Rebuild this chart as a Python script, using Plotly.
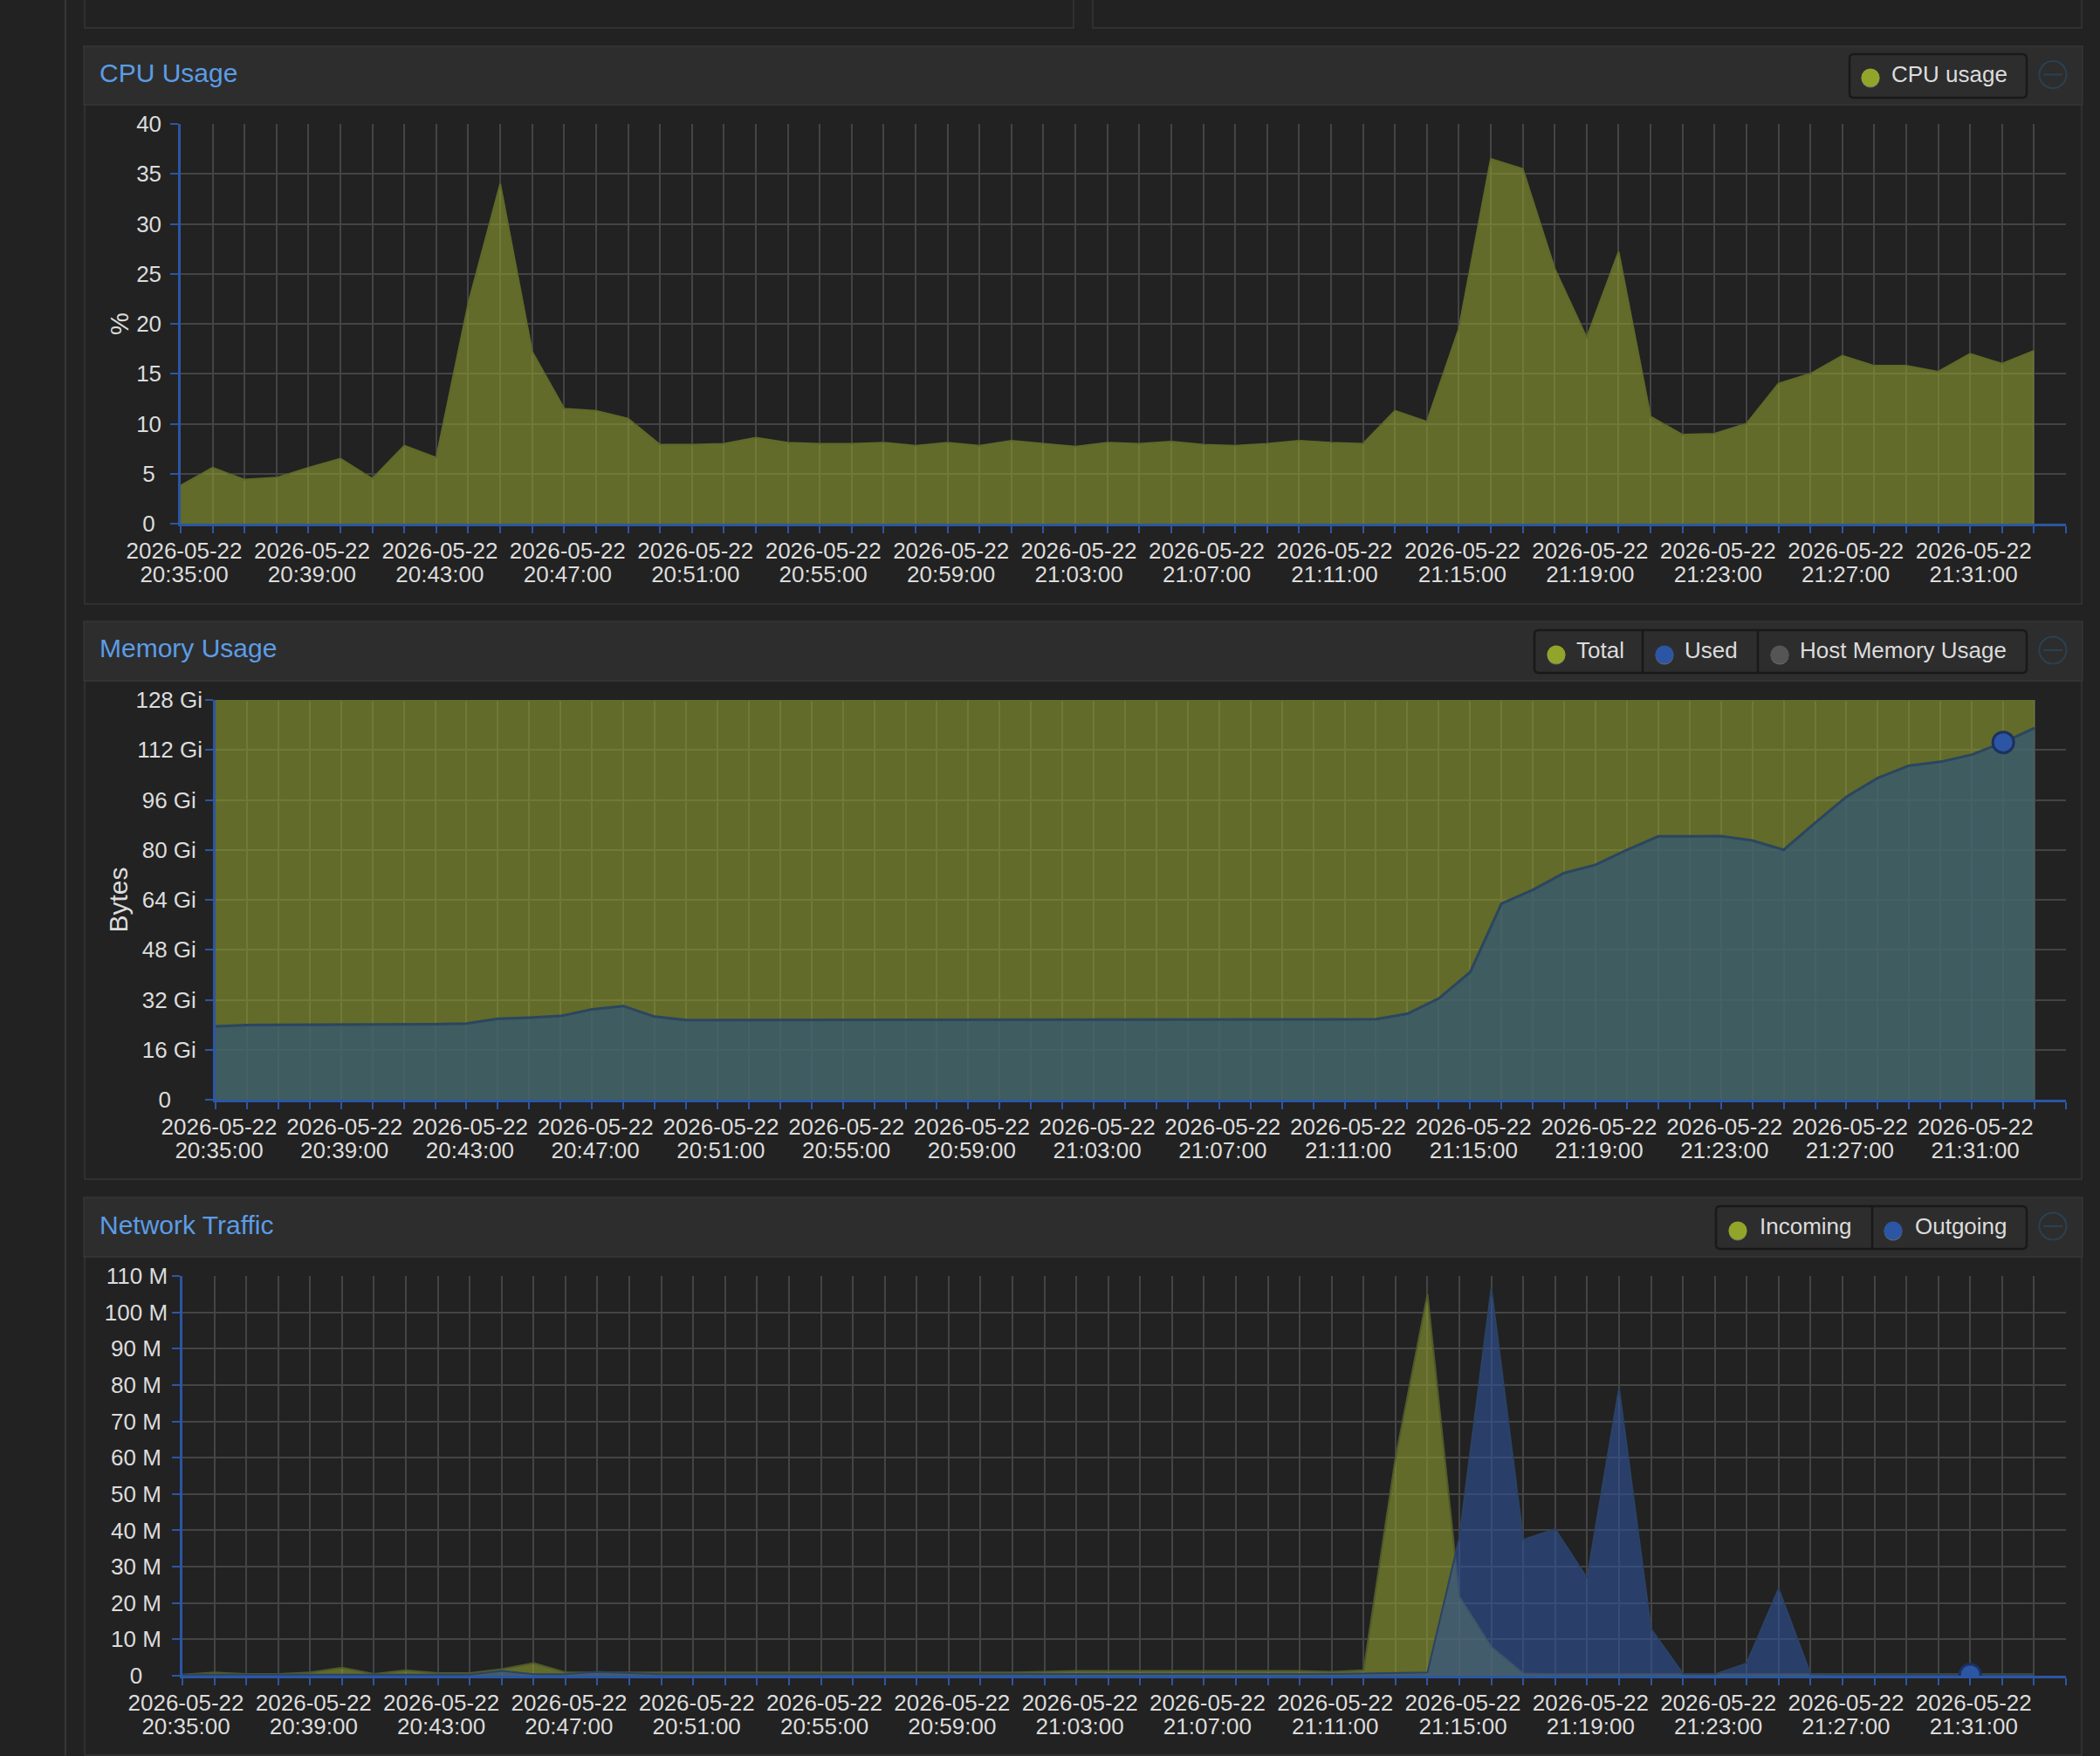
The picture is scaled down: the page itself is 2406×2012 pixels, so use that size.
import pandas as pd
import plotly.graph_objects as go

W, H = 2406, 2012

# one sample per minute, 20:35 .. 21:33
times = pd.date_range("2026-05-22 20:35:00", "2026-05-22 21:33:00", freq="min")
axis_end = "2026-05-22 21:34:00"
minute_ticks = pd.date_range("2026-05-22 20:35:00", axis_end, freq="min")
label_ticks = minute_ticks[::4][:15]
date_labels = [t.strftime("%Y-%m-%d") for t in label_ticks]
time_labels = [t.strftime("%H:%M:%S") for t in label_ticks]
mem_hover_idx = 57
net_hover_idx = 56

cpu_usage = [3.8, 5.6, 4.4, 4.6, 5.6, 6.5, 4.5, 7.8, 6.6, 22.0, 34.0, 17.2, 11.5, 11.3, 10.5,
             7.9, 7.9, 8.0, 8.6, 8.1, 8.0, 8.0, 8.1, 7.8, 8.1, 7.8, 8.3, 8.0, 7.7, 8.1,
             8.0, 8.2, 7.9, 7.8, 8.0, 8.3, 8.1, 8.0, 11.3, 10.2, 19.5, 36.5, 35.5, 25.5, 18.6,
             27.2, 10.7, 8.9, 9.0, 10.0, 14.0, 15.0, 16.8, 15.8, 15.8, 15.2, 17.0, 16.0, 17.3]

mem_total = [128] * 59
mem_used = [23.5, 23.9, 24.0, 24.0, 24.0, 24.0, 24.0, 24.2, 24.4, 25.9, 26.3, 26.8, 28.9, 30.0, 26.6,
            25.5, 25.5, 25.5, 25.5, 25.5, 25.5, 25.5, 25.5, 25.5, 25.5, 25.5, 25.5, 25.5, 25.5, 25.5,
            25.5, 25.5, 25.5, 25.5, 25.6, 25.6, 25.7, 25.8, 27.5, 32.4, 40.8, 62.8, 67.2, 72.6, 75.2,
            80.0, 84.3, 84.3, 84.4, 83.0, 80.0, 88.6, 97.0, 103.0, 107.0, 108.2, 110.5, 114.4, 119.0]

net_in = [0.3, 0.9, 0.5, 0.5, 0.9, 2.2, 0.5, 1.5, 0.7, 0.7, 1.8, 3.5, 0.9, 0.9, 0.9,
          0.9, 0.9, 0.9, 0.9, 0.9, 0.9, 0.9, 0.9, 0.9, 0.9, 0.9, 0.9, 1.1, 1.3, 1.3,
          1.3, 1.3, 1.3, 1.3, 1.3, 1.3, 1.1, 1.5, 60.0, 105.0, 21.7, 8.0, 0.6, 0.4, 0.4,
          0.4, 0.4, 0.4, 0.4, 0.4, 0.4, 0.4, 0.4, 0.4, 0.4, 0.4, 0.4, 0.4, 0.4]
net_out = [0.3, 0.3, 0.3, 0.3, 0.3, 0.3, 0.3, 0.3, 0.3, 0.3, 1.3, 0.4, 0.4, 1.1, 0.7,
           0.4, 0.4, 0.4, 0.4, 0.4, 0.4, 0.4, 0.4, 0.4, 0.4, 0.4, 0.4, 0.4, 0.4, 0.4,
           0.4, 0.4, 0.4, 0.4, 0.4, 0.4, 0.5, 0.6, 0.7, 0.9, 38.0, 106.5, 37.4, 40.3, 26.8,
           79.0, 12.9, 0.5, 0.4, 3.4, 23.9, 0.4, 0.3, 0.3, 0.3, 0.3, 0.3, 0.3, 0.3]

cpu_ticks = list(range(0, 41, 5))
cpu_ticktext = [str(v) for v in cpu_ticks]
mem_ticks = list(range(0, 129, 16))
mem_ticktext = ["0"] + [f"{v} Gi" for v in mem_ticks[1:]]
net_ticks = list(range(0, 111, 10))
net_ticktext = ["0"] + [f"{v} M" for v in net_ticks[1:]]

BG = "#222222"
HEADER = "#2d2d2d"
BORDER = "#363636"
GRID = "#444444"
AXIS = "#2c56a4"
TEXT = "#dcdcdc"
TITLE = "#5c9ce6"
OLIVE = "#92a52a"
BLUE = "#2c56a4"
GREY = "#555555"
FONT = "Liberation Sans"
OLIVE_FILL = "rgba(141,157,46,0.6)"


def px(x):
    return x / W


def py(y):
    return 1 - y / H


def center_labels(labels, pad):
    # the reference centres its y labels, plotly right-aligns them
    widest = max(len(s) for s in labels)
    out = []
    for s in labels:
        n = pad if len(s) == 1 else (widest - len(s))
        out.append(s + "\u00a0" * n)
    return out


fig = go.Figure()

# plot boxes in screen pixels: left, right, top, bottom
charts = [
    dict(box=(207, 2367, 142, 600), rng=[0, 40], ticks=cpu_ticks, text=center_labels(cpu_ticktext, 1),
         title="%", title_size=29, standoff=5),
    dict(box=(247, 2367, 802, 1260), rng=[0, 128], ticks=mem_ticks, text=center_labels(mem_ticktext, 5),
         title="Bytes", title_size=30, standoff=-2),
    dict(box=(209, 2367, 1462, 1920), rng=[0, 110], ticks=net_ticks, text=center_labels(net_ticktext, 4),
         title=None, title_size=0, standoff=0),
]


def area(y, ax, fill, line, width=2):
    fig.add_trace(go.Scatter(x=times, y=y, xaxis=f"x{ax}", yaxis=f"y{ax}", mode="lines", fill="tozeroy",
                             fillcolor=fill, line=dict(color=line, width=width), showlegend=False))


area(cpu_usage, 1, OLIVE_FILL, "#5f6a29")
area(mem_total, 2, OLIVE_FILL, "#626c29")
area(mem_used, 2, "rgba(40,81,133,0.6)", "#2b4660", 3)
area(net_in, 3, OLIVE_FILL, "#4f5a2a")
area(net_out, 3, "rgba(47,82,151,0.6)", "#2b4266")

# hover dots
fig.add_trace(go.Scatter(x=[times[mem_hover_idx]], y=[mem_used[mem_hover_idx]], xaxis="x2", yaxis="y2", mode="markers",
                         marker=dict(size=24, color=BLUE, line=dict(color="#1b3160", width=3)), showlegend=False))
fig.add_trace(go.Scatter(x=[times[net_hover_idx]], y=[net_out[net_hover_idx]], xaxis="x3", yaxis="y3", mode="markers",
                         marker=dict(size=24, color=BLUE, line=dict(color="#1b3160", width=3)), showlegend=False))

layout = {}
tick_font = dict(family=FONT, size=26, color=TEXT)
for i, c in enumerate(charts):
    n = i + 1
    x0, x1, y0, y1 = c["box"]
    key = "" if n == 1 else str(n)
    date_text = [date_labels[j // 4] if j % 4 == 0 and j // 4 < len(date_labels) else "" for j in range(len(minute_ticks))]
    layout[f"xaxis{key}"] = dict(
        domain=[px(x0), px(x1)], type="date", range=[minute_ticks[0], axis_end], anchor=f"y{key}", automargin=False,
        tickmode="array", tickvals=list(minute_ticks), ticktext=date_text, tickfont=tick_font, tickangle=0,
        ticks="outside", ticklen=8, tickwidth=2, tickcolor=AXIS, showline=True, linecolor=AXIS, linewidth=2.5,
        showgrid=True, gridcolor=GRID, gridwidth=1.8, zeroline=False, ticklabelstandoff=-2, ticklabelshift=-4,
    )
    yaxis = dict(
        domain=[py(y1), py(y0)], range=c["rng"], anchor=f"x{key}", automargin=False,
        tickmode="array", tickvals=c["ticks"], ticktext=c["text"], tickfont=tick_font,
        ticks="outside", ticklen=9, tickwidth=2, tickcolor=AXIS, showline=True, linecolor=AXIS, linewidth=2.5,
        showgrid=True, gridcolor=GRID, gridwidth=1.8, zeroline=False, ticklabelstandoff=c["standoff"],
    )
    if c["title"]:
        yaxis["title"] = dict(text=c["title"], font=dict(family=FONT, size=c["title_size"], color=TEXT), standoff=0)
    layout[f"yaxis{key}"] = yaxis
    # second line of the x labels sits on its own overlaid axis, <br> spacing is too wide here
    layout[f"xaxis{n + 3}"] = dict(
        domain=[px(x0), px(x1)], type="date", range=[minute_ticks[0], axis_end], anchor=f"y{key}", automargin=False,
        overlaying=f"x{key}", side="bottom", tickmode="array", tickvals=list(label_ticks), ticktext=time_labels,
        tickfont=tick_font, tickangle=0, ticks="", showgrid=False, showline=False, zeroline=False,
        ticklabelstandoff=40, ticklabelshift=-4,
    )
    fig.add_trace(go.Scatter(x=[minute_ticks[0]], y=[None], xaxis=f"x{n + 3}", yaxis=f"y{n}", mode="lines",
                             showlegend=False, hoverinfo="skip"))

shapes = []
annotations = []


def rect(x0, y0, x1, y1, fill=None, line=None, width=1.5):
    shapes.append(dict(type="rect", xref="paper", yref="paper", x0=px(x0), x1=px(x1), y0=py(y0), y1=py(y1),
                       fillcolor=fill if fill else "rgba(0,0,0,0)",
                       line=dict(color=line if line else "rgba(0,0,0,0)", width=width), layer="below"))


def label(x, y, text, color=TEXT, size=26):
    annotations.append(dict(xref="paper", yref="paper", x=px(x), y=py(y), text=text, showarrow=False,
                            xanchor="left", yanchor="middle", font=dict(family=FONT, size=size, color=color)))


def dot(cx, cy, color, d=21):
    shapes.append(dict(type="circle", xref="paper", yref="paper", x0=px(cx - d / 2), x1=px(cx + d / 2),
                       y0=py(cy + d / 2 + 1), y1=py(cy - d / 2 + 1), fillcolor="#6a6a6a", line=dict(width=0), layer="above"))
    shapes.append(dict(type="circle", xref="paper", yref="paper", x0=px(cx - d / 2), x1=px(cx + d / 2),
                       y0=py(cy + d / 2), y1=py(cy - d / 2), fillcolor=color, line=dict(width=0), layer="above"))


def rounded(x0, y0, x1, y1, r=5):
    X0, X1, Y0, Y1 = px(x0), px(x1), py(y0), py(y1)
    rx, ry = r / W, r / H
    path = (f"M {X0 + rx},{Y0} L {X1 - rx},{Y0} Q {X1},{Y0} {X1},{Y0 - ry} L {X1},{Y1 + ry} Q {X1},{Y1} {X1 - rx},{Y1} "
            f"L {X0 + rx},{Y1} Q {X0},{Y1} {X0},{Y1 + ry} L {X0},{Y0 - ry} Q {X0},{Y0} {X0 + rx},{Y0} Z")
    shapes.append(dict(type="path", xref="paper", yref="paper", path=path, fillcolor=HEADER,
                       line=dict(color="#191919", width=2.5), layer="above"))


def collapse(cx, cy):
    d = 31
    shapes.append(dict(type="circle", xref="paper", yref="paper", x0=px(cx - d / 2), x1=px(cx + d / 2),
                       y0=py(cy + d / 2), y1=py(cy - d / 2), line=dict(color="#2a4152", width=2), layer="above"))
    shapes.append(dict(type="line", xref="paper", yref="paper", x0=px(cx - 11), x1=px(cx + 11), y0=py(cy), y1=py(cy),
                       line=dict(color="#2a4152", width=2), layer="above"))


# page frame
shapes.append(dict(type="line", xref="paper", yref="paper", x0=px(75), x1=px(75), y0=0, y1=1,
                   line=dict(color=BORDER, width=2), layer="below"))
rect(97, -10, 1230, 32, line=BORDER)
rect(1252, -10, 2385, 32, line=BORDER)

panels = [(53, 120, 692, "CPU Usage"), (712, 780, 1351, "Memory Usage"), (1372, 1440, 2011, "Network Traffic")]
for top, head, bottom, name in panels:
    rect(97, head, 2385, bottom, line=BORDER)
    rect(96, top, 2386, head, fill=HEADER, line=BORDER)
    label(112, (top + head) / 2 - 3, name, color=TITLE, size=30)
    collapse(2352, (top + head) / 2 - 1)

# legends
rounded(2119, 62, 2322, 112)
dot(2143, 89, OLIVE)
label(2165, 85, "CPU usage")

rounded(1758, 722, 2322, 771)
for sep in (1882, 2014):
    shapes.append(dict(type="line", xref="paper", yref="paper", x0=px(sep), x1=px(sep), y0=py(722), y1=py(771),
                       line=dict(color="#191919", width=2.5), layer="above"))
dot(1783, 750, OLIVE)
dot(1907, 750, BLUE)
dot(2039, 750, GREY)
label(1804, 745, "Total")
label(1928, 745, "Used")
label(2060, 745, "Host Memory Usage")

rounded(1966, 1382, 2322, 1431)
shapes.append(dict(type="line", xref="paper", yref="paper", x0=px(2145), x1=px(2145), y0=py(1382), y1=py(1431),
                   line=dict(color="#191919", width=2.5), layer="above"))
dot(1991, 1410, OLIVE)
dot(2169, 1410, BLUE)
label(2014, 1405, "Incoming")
label(2192, 1405, "Outgoing")

fig.update_layout(
    width=W, height=H, margin=dict(l=0, r=0, t=0, b=0, pad=0), autosize=False,
    paper_bgcolor=BG, plot_bgcolor=BG, showlegend=False, font=dict(family=FONT, color=TEXT),
    shapes=shapes, annotations=annotations, **layout,
)

# browser default body margin would push the 2406 px page off the window
fig.write_html("out.html", config=dict(displayModeBar=False),
               post_script="document.body.style.margin='0';document.body.style.background='#222222';")
